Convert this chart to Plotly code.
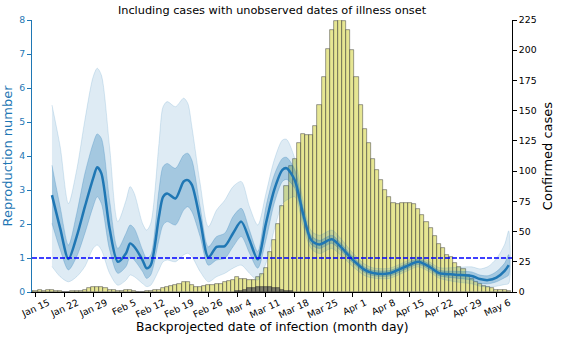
import pandas as pd
import plotly.graph_objects as go

# ---- daily confirmed cases by backprojected date of infection ----
CASE_START = "2020-01-14"
cases = [
    1, 1, 2, 1, 2, 2, 1, 1, 0, 0, 1, 1, 1, 2, 3, 4, 4, 4,          # Jan 14 - Jan 31
    3, 2, 2, 1, 1, 2, 2, 1, 0, 0, 1, 1, 2, 2, 3, 4, 5, 6, 7, 8,    # Feb 1 - Feb 20
    8, 6, 4, 4, 5, 6, 6, 7, 7,                                     # Feb 21 - Feb 29
    8, 9, 10, 12, 11, 11, 10, 10, 12, 15, 20, 33, 43, 56, 71, 88,  # Mar 1 - Mar 16
    104, 110, 123, 131, 130, 130, 137, 155, 178, 201, 217, 224,    # Mar 17 - Mar 28
    225, 224, 217,                                                 # Mar 29 - Mar 31
    200, 178, 155, 135, 123, 110, 101, 93, 84, 79, 74, 73, 74, 74, # Apr 1 - Apr 14
    74, 73, 69, 64, 58, 53, 46, 40, 36, 31, 29, 24, 21, 19, 14, 11,# Apr 15 - Apr 30
    8, 7, 5, 4, 3, 2, 2, 2, 1,                                     # May 1 - May 9
]

# cases shown in the darker overlay (early March)
DARK_START = "2020-03-04"
dark_cases = [1, 1, 2, 3, 3, 4, 4, 4, 4, 3, 3, 2, 1, 1]

# ---- reproduction number: median with 50% and 95% intervals ----
rt_dates = [
    "2020-01-19", "2020-01-21", "2020-01-23", "2020-01-25", "2020-01-27", "2020-01-29",
    "2020-01-30", "2020-01-31", "2020-02-02", "2020-02-04", "2020-02-06", "2020-02-07",
    "2020-02-08", "2020-02-10", "2020-02-11", "2020-02-12", "2020-02-14", "2020-02-15",
    "2020-02-16", "2020-02-18", "2020-02-20", "2020-02-21", "2020-02-22", "2020-02-24",
    "2020-02-26", "2020-02-28", "2020-03-01", "2020-03-03", "2020-03-05", "2020-03-07",
    "2020-03-09", "2020-03-11", "2020-03-13", "2020-03-15", "2020-03-16", "2020-03-18",
    "2020-03-20", "2020-03-22", "2020-03-24", "2020-03-27", "2020-03-29", "2020-04-01",
    "2020-04-04", "2020-04-06", "2020-04-10", "2020-04-14", "2020-04-17", "2020-04-20",
    "2020-04-22", "2020-04-26", "2020-04-30", "2020-05-02", "2020-05-04", "2020-05-06",
    "2020-05-08", "2020-05-09",
]
rt_median = [
    2.85, 1.87, 0.97, 1.63, 2.51, 3.34, 3.67, 3.49, 1.87, 0.89, 1.14, 1.43,
    1.33, 0.94, 0.70, 0.79, 2.22, 2.80, 2.90, 2.75, 3.25, 3.29, 3.15, 2.12,
    1.02, 1.33, 1.35, 1.73, 2.07, 1.53, 0.96, 2.02, 3.00, 3.59, 3.64, 3.29,
    2.31, 1.53, 1.40, 1.55, 1.35, 0.96, 0.65, 0.56, 0.55, 0.75, 0.89, 0.72,
    0.56, 0.51, 0.47, 0.38, 0.35, 0.42, 0.62, 0.79,
]
rt_lo50 = [
    2.02, 1.24, 0.65, 1.04, 1.73, 2.51, 2.80, 2.60, 1.24, 0.55, 0.75, 1.04,
    0.94, 0.60, 0.40, 0.50, 1.53, 1.97, 2.07, 1.97, 2.41, 2.51, 2.36, 1.63,
    0.79, 0.94, 0.99, 1.33, 1.63, 1.14, 0.70, 1.53, 2.60, 3.25, 3.31, 3.05,
    2.12, 1.40, 1.28, 1.43, 1.24, 0.87, 0.57, 0.48, 0.47, 0.67, 0.81, 0.64,
    0.48, 0.41, 0.35, 0.26, 0.24, 0.30, 0.42, 0.50,
]
rt_hi50 = [
    3.73, 2.50, 1.38, 2.31, 3.49, 4.37, 4.65, 4.52, 2.70, 1.28, 1.73, 1.97,
    1.87, 1.24, 0.99, 1.09, 3.00, 3.69, 3.78, 3.64, 4.03, 4.08, 3.88, 2.51,
    1.33, 1.63, 1.73, 2.22, 2.46, 1.82, 1.19, 2.51, 3.44, 3.93, 3.96, 3.60,
    2.50, 1.66, 1.52, 1.67, 1.46, 1.05, 0.73, 0.64, 0.63, 0.83, 0.97, 0.80,
    0.64, 0.61, 0.59, 0.50, 0.48, 0.60, 0.85, 1.10,
]
rt_lo95 = [
    0.75, 0.45, 0.30, 0.45, 0.75, 1.28, 1.38, 1.24, 0.55, 0.20, 0.35, 0.50,
    0.45, 0.25, 0.16, 0.20, 0.65, 0.89, 0.94, 0.89, 1.09, 1.14, 1.04, 0.60,
    0.30, 0.45, 0.55, 0.70, 0.79, 0.55, 0.35, 0.84, 1.82, 2.60, 2.70, 2.80,
    1.95, 1.27, 1.13, 1.28, 1.10, 0.76, 0.48, 0.41, 0.40, 0.60, 0.74, 0.57,
    0.41, 0.30, 0.24, 0.17, 0.15, 0.17, 0.22, 0.25,
]
rt_hi95 = [
    5.50, 4.27, 2.60, 3.59, 5.06, 6.33, 6.58, 6.38, 4.27, 2.07, 2.70, 3.10,
    2.90, 2.02, 1.82, 2.02, 4.37, 5.45, 5.60, 5.45, 5.70, 5.55, 4.86, 3.20,
    1.92, 2.41, 2.70, 3.10, 3.25, 2.51, 1.97, 2.90, 3.88, 4.47, 4.49, 3.93,
    2.70, 1.80, 1.67, 1.82, 1.60, 1.16, 0.82, 0.71, 0.70, 0.90, 1.04, 0.87,
    0.72, 0.72, 0.74, 0.68, 0.75, 0.98, 1.40, 1.80,
]

THRESHOLD = 1.0
week_ticks = pd.date_range("2020-01-15", "2020-05-06", freq="7D")
x_range = ["2020-01-14 03:30", "2020-05-09 19:00"]

BLUE = "#1f77b4"
DAY_MS = 86400000

case_dates = pd.date_range(CASE_START, periods=len(cases), freq="D")
dark_dates = pd.date_range(DARK_START, periods=len(dark_cases), freq="D")
rt_x = pd.to_datetime(rt_dates)

fig = go.Figure()

# histogram of cases (right axis)
fig.add_trace(go.Bar(
    x=case_dates, y=cases, width=DAY_MS, yaxis="y",
    marker=dict(color="rgba(214,214,80,0.62)",
                line=dict(color="rgba(60,60,60,0.7)", width=0.7)),
    showlegend=False, hoverinfo="skip",
))
fig.add_trace(go.Bar(
    x=dark_dates, y=dark_cases, width=DAY_MS, yaxis="y",
    marker=dict(color="rgba(90,90,90,0.75)",
                line=dict(color="rgba(40,40,40,0.75)", width=0.7)),
    showlegend=False, hoverinfo="skip",
))


def band(lo, hi, color, edge):
    xs = list(rt_x) + list(rt_x[::-1])
    ys = list(hi) + list(lo[::-1])
    return go.Scatter(
        x=xs, y=ys, yaxis="y2", fill="toself", fillcolor=color,
        mode="lines", line=dict(color=edge, width=0.8, shape="spline", smoothing=0.8),
        showlegend=False, hoverinfo="skip",
    )


fig.add_trace(band(rt_lo95, rt_hi95, "rgba(31,119,180,0.15)", "rgba(31,119,180,0.2)"))
fig.add_trace(band(rt_lo50, rt_hi50, "rgba(31,119,180,0.30)", "rgba(31,119,180,0.3)"))
fig.add_trace(go.Scatter(
    x=rt_x, y=rt_median, yaxis="y2", mode="lines",
    line=dict(color=BLUE, width=2.5, shape="spline", smoothing=0.8),
    showlegend=False, hoverinfo="skip",
))

fig.add_shape(type="line", xref="paper", x0=0, x1=1, yref="y2",
              y0=THRESHOLD, y1=THRESHOLD, layer="above",
              line=dict(color="#0000ff", width=1.3, dash="5px,2px"))

# x-axis title placed just below the rotated date labels
fig.add_annotation(text="Backprojected date of infection (month day)",
                   xref="paper", yref="paper", x=0.5, y=-0.13,
                   xanchor="center", yanchor="middle", showarrow=False,
                   font=dict(size=12.3, color="black"))

fig.update_layout(
    width=563, height=339,
    margin=dict(l=32, r=50.5, t=20, b=47, autoexpand=False),
    paper_bgcolor="white", plot_bgcolor="white",
    font=dict(family="DejaVu Sans", size=9, color="black"),
    barmode="overlay", bargap=0,
    title=dict(text="Including cases with unobserved dates of illness onset",
               x=0.5, xref="paper", y=1 - 10 / 339, yref="container",
               xanchor="center", yanchor="middle",
               font=dict(size=11.3, color="black")),
    xaxis=dict(
        type="date", range=x_range, automargin=False,
        tickvals=week_ticks, tickformat="%b %-d", tickangle=-25,
        ticklabelshift=13, ticklabelstandoff=-3,
        ticks="outside", ticklen=4, tickcolor="black",
        showline=True, linecolor="black", linewidth=1,
        showgrid=False, zeroline=False,
        tickfont=dict(size=9.3),
    ),
    yaxis=dict(
        range=[0, 225], tickvals=list(range(0, 226, 25)), side="right",
        automargin=False,
        ticks="outside", ticklen=4, tickcolor="black",
        showline=True, linecolor="black", linewidth=1,
        showgrid=False, zeroline=False,
        tickfont=dict(size=9.3),
        title=dict(text="Confirmed cases", font=dict(size=13), standoff=7),
    ),
    yaxis2=dict(
        range=[0, 8], dtick=1, side="left", overlaying="y", automargin=False,
        ticks="outside", ticklen=4, tickcolor=BLUE,
        showline=True, linecolor=BLUE, linewidth=1,
        showgrid=False, zeroline=False,
        tickfont=dict(size=9.3, color=BLUE),
        title=dict(text="Reproduction number", font=dict(size=13, color=BLUE), standoff=5),
    ),
)

fig.write_html("out.html")
